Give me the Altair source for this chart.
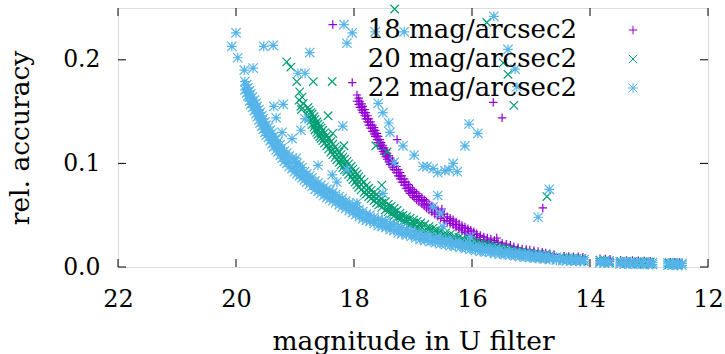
import altair as alt
import pandas as pd

# ---------------- values ----------------
series_names = ["18 mag/arcsec2", "20 mag/arcsec2", "22 mag/arcsec2"]
series_colors = ["#9400d3", "#009e73", "#56b4e9"]
series_shapes = [
    "M-1,0L1,0M0,-1L0,1",
    "M-1,-1L1,1M-1,1L1,-1",
    "M-1.15,0L1.15,0M0,-1.15L0,1.15M-1.1,-1.1L1.1,1.1M-1.1,1.1L1.1,-1.1",
]

x_ticks = [22, 20, 18, 16, 14, 12]
y_ticks = [0.0, 0.1, 0.2]

# --- 18 mag/arcsec2 : dense band (upper edge, lower edge, middle) ---
band18_mag = [17.95, 17.90, 17.85, 17.80, 17.75, 17.69, 17.64, 17.59, 17.54, 17.49,
              17.44, 17.39, 17.32, 17.25, 17.19, 17.12, 17.05, 16.98, 16.90, 16.81,
              16.73, 16.63, 16.53, 16.42, 16.32, 16.22, 16.12, 16.02, 15.92, 15.80,
              15.68, 15.56, 15.42, 15.29, 15.15, 15.02, 14.88, 14.75, 14.61, 14.44,
              14.36, 14.28, 14.20, 14.12, 13.83, 13.74, 13.66, 13.48, 13.38, 13.28,
              13.18, 13.08, 12.98, 12.64, 12.56, 12.48]
band18_hi = [.166, .160, .155, .149, .143, .137, .132, .126, .120, .115,
             .110, .105, .100, .094, .088, .082, .077, .073, .069, .065,
             .061, .057, .053, .0485, .0455, .0415, .0385, .0355, .032, .029,
             .027, .024, .022, .0195, .0175, .0165, .015, .0135, .0121, .0105,
             .0102, .0100, .0098, .0095, .0080, .0078, .0076, .0066, .0064, .0062,
             .0060, .0058, .0056, .0046, .0045, .0044]
band18_lo = [.160, .154, .149, .143, .137, .131, .126, .120, .114, .109,
             .104, .099, .094, .088, .082, .076, .071, .067, .063, .059,
             .055, .051, .047, .0435, .0405, .0365, .0335, .0305, .028, .025,
             .023, .020, .018, .0165, .0145, .0135, .012, .0105, .0091, .0085,
             .0082, .0080, .0078, .0075, .0060, .0058, .0056, .0046, .0044, .0042,
             .0040, .0038, .0036, .0026, .0025, .0024]
mid18_mag = [17.92, 17.87, 17.82, 17.77, 17.72, 17.66, 17.61, 17.56, 17.51, 17.46,
             17.41, 17.35, 17.28, 17.22, 17.15, 17.08, 17.01, 16.94, 16.85, 16.77,
             16.68, 16.58, 16.47, 16.37, 16.27, 16.17, 16.07, 15.97, 15.86, 15.74,
             15.62, 15.49, 15.35, 15.22, 15.08, 14.95, 14.81, 14.68]
mid18_acc = [.160, .1545, .149, .143, .137, .1315, .126, .120, .1145, .1095,
             .1045, .0995, .094, .088, .082, .0765, .072, .068, .064, .060,
             .056, .052, .048, .0445, .041, .0375, .0345, .0315, .0285, .026,
             .0235, .021, .019, .017, .0155, .0142, .0127, .0113]
mid18_hi = [.163, .1575, .152, .146, .140, .1345, .129, .123, .1175, .1125,
            .1075, .1025, .097, .091, .085, .0795, .075, .071, .067, .063,
            .059, .055, .051, .047, .0435, .040, .037, .034, .0305, .028,
            .0255, .023, .021, .0185, .017, .0157, .0142, .0128]
mid18_lo = [.157, .1515, .146, .140, .134, .1285, .123, .117, .1115, .1065,
            .1015, .0965, .091, .085, .079, .0735, .069, .065, .061, .057,
            .053, .049, .045, .042, .0385, .035, .032, .029, .0265, .024,
            .0215, .019, .017, .0155, .014, .0127, .0112, .0098]
out18_mag = [18.36, 18.03, 17.27, 15.64, 15.49, 14.80, 16.51, 15.58]
out18_acc = [.234, .178, .123, .159, .144, .057, .056, .028]

# --- 20 mag/arcsec2 ---
band20_mag = [18.78, 18.73, 18.68, 18.63, 18.58, 18.53, 18.46, 18.39, 18.32, 18.25,
              18.19, 18.12, 18.05, 17.98, 17.92, 17.83, 17.75, 17.66, 17.58, 17.47,
              17.37, 17.27, 17.17, 17.05, 16.93, 16.80, 16.66, 16.53, 16.37, 16.22,
              16.07, 15.92, 15.76, 15.61, 15.46, 15.31, 15.15, 15.00, 14.85, 14.68,
              14.46, 14.38, 14.30, 14.22, 14.14, 13.83, 13.75, 13.67, 13.48, 13.38,
              13.28, 13.18, 13.08, 12.98, 12.66, 12.58, 12.50]
band20_hi = [.154, .149, .145, .140, .136, .132, .127, .121, .116, .111,
             .106, .102, .097, .092, .087, .082, .076, .072, .068, .063,
             .0585, .0545, .050, .047, .044, .041, .0375, .0345, .0315, .0286,
             .026, .024, .022, .020, .0179, .016, .0145, .0131, .0121, .0112,
             .0090, .0088, .0086, .0083, .0081, .0066, .0064, .0062, .0055, .0053,
             .0052, .0050, .0049, .0048, .0041, .0040, .0039]
band20_lo = [.146, .141, .135, .130, .126, .122, .117, .111, .106, .101,
             .096, .092, .087, .082, .077, .072, .068, .064, .060, .055,
             .0515, .0475, .044, .041, .038, .035, .0325, .0295, .0265, .0246,
             .022, .020, .018, .016, .0149, .013, .0115, .0101, .0091, .0082,
             .0070, .0068, .0066, .0063, .0061, .0046, .0044, .0042, .0035, .0033,
             .0032, .0030, .0029, .0028, .0021, .0020, .0019]
mid20_mag = [18.76, 18.71, 18.66, 18.61, 18.56, 18.50, 18.43, 18.36, 18.29, 18.22,
             18.16, 18.09, 18.02, 17.95, 17.88, 17.79, 17.71, 17.62, 17.53, 17.42,
             17.32, 17.22, 17.11, 16.99, 16.87, 16.73, 16.60, 16.45, 16.30, 16.15,
             16.00, 15.84, 15.69, 15.54, 15.39, 15.23, 15.08, 14.93, 14.77]
mid20_acc = [.1475, .1425, .1375, .133, .129, .1245, .119, .1135, .1085, .1035,
             .099, .0945, .0895, .0845, .0795, .0745, .070, .066, .0615, .057,
             .053, .049, .0455, .0425, .0395, .0365, .0335, .0305, .0278, .0253,
             .023, .021, .019, .0172, .0155, .0138, .0123, .0111, .0101]
mid20_hi = [.1515, .1475, .1425, .138, .134, .1295, .124, .1185, .1135, .1085,
            .104, .0995, .0945, .0895, .0845, .0785, .074, .070, .0655, .0605,
            .0565, .052, .0485, .0455, .0425, .039, .036, .033, .0298, .0273,
            .025, .023, .021, .0187, .017, .0153, .0138, .0126, .0116]
mid20_lo = [.1435, .1375, .1325, .128, .124, .1195, .114, .1085, .1035, .0985,
            .094, .0895, .0845, .0795, .0745, .0705, .066, .062, .0575, .0535,
            .0495, .046, .0425, .0395, .0365, .034, .031, .028, .0258, .0233,
            .021, .019, .017, .0157, .014, .0123, .0108, .0096, .0086]
out20_mag = [18.92, 18.88, 18.93, 18.86, 18.90, 18.89, 19.14, 19.07, 18.97, 18.69,
             18.37, 17.31, 15.75, 15.47, 15.39, 15.29, 18.44, 18.36, 18.17, 17.44,
             17.63, 17.53, 14.73]
out20_acc = [.169, .164, .161, .158, .155, .152, .198, .193, .179, .179,
             .179, .249, .236, .197, .186, .156, .146, .129, .117, .111,
             .117, .079, .068]

# --- 22 mag/arcsec2 ---
band22_mag = [19.85, 19.80, 19.75, 19.69, 19.64, 19.59, 19.54, 19.49, 19.42, 19.36,
              19.29, 19.22, 19.14, 19.05, 18.97, 18.88, 18.80, 18.71, 18.61, 18.51,
              18.41, 18.31, 18.20, 18.08, 17.97, 17.85, 17.73, 17.59, 17.46, 17.32,
              17.19, 17.03, 16.88, 16.71, 16.54, 16.37, 16.20, 16.03, 15.86, 15.69,
              15.53, 15.36, 15.19, 15.02, 14.85, 14.68, 14.46, 14.40, 14.32, 14.24,
              14.16, 14.10, 13.83, 13.76, 13.68, 13.49, 13.41, 13.32, 13.22, 13.12,
              13.02, 12.94, 12.68, 12.60, 12.52, 12.44]
band22_hi = [.179, .173, .167, .161, .155, .149, .143, .137, .132, .126,
             .121, .115, .110, .105, .100, .096, .090, .086, .081, .077,
             .074, .070, .066, .0615, .0575, .0535, .050, .046, .044, .041,
             .038, .0345, .0315, .0295, .0275, .0255, .023, .021, .019, .018,
             .0165, .0145, .0131, .0121, .0112, .0102, .0082, .0080, .0078, .0076,
             .0074, .0072, .0060, .0058, .0057, .0050, .0049, .0048, .0046, .0045,
             .0044, .0043, .0038, .0037, .0036, .0035]
band22_lo = [.171, .165, .157, .151, .145, .139, .133, .127, .122, .116,
             .111, .105, .100, .095, .090, .086, .082, .078, .073, .069,
             .066, .062, .058, .0545, .0505, .0465, .044, .040, .038, .035,
             .032, .0295, .0265, .0245, .0225, .0205, .019, .017, .015, .014,
             .0125, .0115, .0101, .0091, .0082, .0072, .0062, .0060, .0058, .0056,
             .0054, .0052, .0040, .0038, .0037, .0030, .0029, .0028, .0026, .0025,
             .0024, .0023, .0018, .0017, .0016, .0015]
mid22_mag = [19.82, 19.77, 19.72, 19.66, 19.61, 19.56, 19.51, 19.45, 19.39, 19.32,
             19.25, 19.18, 19.10, 19.01, 18.92, 18.84, 18.75, 18.66, 18.56, 18.46,
             18.36, 18.25, 18.14, 18.02, 17.91, 17.79, 17.66, 17.52, 17.39, 17.25,
             17.11, 16.95, 16.80, 16.62, 16.45, 16.28, 16.11, 15.94, 15.77, 15.61,
             15.44, 15.27, 15.10, 14.93, 14.76, 14.57]
mid22_acc = [.172, .165, .159, .153, .147, .141, .135, .130, .124, .118,
             .113, .107, .102, .097, .093, .088, .084, .079, .075, .071,
             .068, .064, .060, .056, .052, .048, .045, .042, .039, .036,
             .0335, .0305, .028, .026, .024, .022, .020, .018, .0165, .015,
             .0137, .0123, .0111, .0101, .0092, .0080]
mid22_hi = [.176, .170, .164, .158, .152, .146, .140, .135, .129, .123,
            .118, .112, .107, .102, .098, .092, .088, .083, .079, .075,
            .072, .068, .0635, .0595, .0555, .051, .048, .045, .042, .039,
            .036, .033, .0305, .0285, .0265, .024, .022, .020, .0185, .017,
            .0152, .0138, .0126, .0116, .0107, .0095]
mid22_lo = [.168, .160, .154, .148, .142, .136, .130, .125, .119, .113,
            .108, .102, .097, .092, .088, .084, .080, .075, .071, .067,
            .064, .060, .0565, .0525, .0485, .045, .042, .039, .036, .033,
            .031, .028, .0255, .0235, .0215, .020, .018, .016, .0145, .013,
            .0122, .0108, .0096, .0086, .0077, .0065]
out22_mag = [20.00, 20.07, 19.97, 19.86, 19.71, 19.53, 19.37, 18.75, 18.17, 18.03,
             18.12, 18.95, 18.83, 19.36, 19.20, 19.32, 19.22, 19.05, 18.90, 18.83,
             18.19, 18.61, 18.98, 18.12, 18.37, 18.29, 17.51, 17.95, 17.64, 17.15,
             15.63, 15.39, 15.27, 15.24, 17.59, 17.51, 17.41, 17.39, 17.17, 16.98,
             16.83, 16.76, 16.66, 16.58, 16.46, 16.39, 16.32, 16.25, 16.05, 15.90,
             16.12, 16.58, 16.66, 16.49, 16.03, 17.32, 14.69, 14.88, 16.54]
out22_acc = [.226, .213, .202, .190, .192, .213, .214, .207, .234, .226,
             .216, .187, .187, .155, .157, .144, .130, .124, .132, .143,
             .136, .098, .105, .094, .089, .082, .071, .062, .227, .227,
             .242, .210, .191, .174, .158, .149, .139, .130, .117, .108,
             .097, .097, .095, .091, .093, .094, .100, .092, .138, .129,
             .117, .069, .058, .039, .029, .101, .075, .048, .052]

# ---------------- table ----------------
rows = []
for name, bm, bh, bl, mm, ma, mh, ml, om, oa in [
    (series_names[0], band18_mag, band18_hi, band18_lo, mid18_mag, mid18_acc,
     mid18_hi, mid18_lo, out18_mag, out18_acc),
    (series_names[1], band20_mag, band20_hi, band20_lo, mid20_mag, mid20_acc,
     mid20_hi, mid20_lo, out20_mag, out20_acc),
    (series_names[2], band22_mag, band22_hi, band22_lo, mid22_mag, mid22_acc,
     mid22_hi, mid22_lo, out22_mag, out22_acc),
]:
    for m, h, l in zip(bm, bh, bl):
        rows.append({"mag": m, "acc": h, "series": name})
        rows.append({"mag": m, "acc": l, "series": name})
    for m, a, h, l in zip(mm, ma, mh, ml):
        rows.append({"mag": m, "acc": h, "series": name})
        rows.append({"mag": m, "acc": a, "series": name})
        rows.append({"mag": m, "acc": l, "series": name})
    for m, a in zip(om, oa):
        rows.append({"mag": m, "acc": a, "series": name})
df = pd.DataFrame(rows)
xt_df = pd.DataFrame({"v": x_ticks})
yt_df = pd.DataFrame({"v": y_ticks})
legend_df = pd.DataFrame({"series": series_names})

FONT = "DejaVu Serif"
xscale = alt.Scale(domain=[12, 22], reverse=True, nice=False, zero=False)
yscale = alt.Scale(domain=[0, 0.25], nice=False, zero=False)
cscale = alt.Scale(domain=series_names, range=series_colors)
sscale = alt.Scale(domain=series_names, range=series_shapes)
legend_y = alt.Scale(type="point", domain=series_names, range=[22, 80], padding=0)

main = alt.Chart(df).mark_point(filled=False, strokeWidth=1.2, size=72, opacity=1).encode(
    x=alt.X("mag:Q", scale=xscale, axis=alt.Axis(
        orient="bottom", values=x_ticks, ticks=False, domain=False, grid=False,
        labelFont=FONT, labelFontSize=24, labelColor="black", labelPadding=20,
        labelFlush=False, labelOverlap=False, labelBound=False,
        title="magnitude in U filter", titleFont=FONT, titleFontSize=26.5,
        titleFontWeight="normal", titleColor="black",
        titleBaseline="alphabetic", titleAlign="center", titleX=295, titleY=82)),
    y=alt.Y("acc:Q", scale=yscale, axis=alt.Axis(
        orient="left", values=y_ticks, format=".1f", ticks=False, domain=False,
        grid=False, labelFont=FONT, labelFontSize=23.5, labelColor="black",
        labelPadding=18, labelFlush=False, labelOverlap=False,
        title="rel. accuracy", titleFont=FONT, titleFontSize=26.5,
        titleFontWeight="normal", titleColor="black",
        titleBaseline="alphabetic", titleAlign="center", titleAngle=270,
        titleX=-90, titleY=129.5)),
    color=alt.Color("series:N", scale=cscale, legend=None),
    shape=alt.Shape("series:N", scale=sscale, legend=None),
)

tick_style = dict(color="black", strokeWidth=1)
tick_bottom = alt.Chart(xt_df).mark_rule(**tick_style).encode(
    x=alt.X("v:Q", scale=xscale, axis=None), y=alt.value(259), y2=alt.value(251))
tick_top = alt.Chart(xt_df).mark_rule(**tick_style).encode(
    x=alt.X("v:Q", scale=xscale, axis=None), y=alt.value(0), y2=alt.value(8))
tick_left = alt.Chart(yt_df).mark_rule(**tick_style).encode(
    y=alt.Y("v:Q", scale=yscale, axis=None), x=alt.value(0), x2=alt.value(8))
tick_right = alt.Chart(yt_df).mark_rule(**tick_style).encode(
    y=alt.Y("v:Q", scale=yscale, axis=None), x=alt.value(590), x2=alt.value(582))

leg_text = alt.Chart(legend_df).mark_text(
    align="right", baseline="middle", font=FONT, fontSize=26, color="black"
).encode(
    x=alt.value(459),
    y=alt.Y("series:N", scale=legend_y, axis=None),
    text="series:N",
)
leg_sym = alt.Chart(legend_df).mark_point(filled=False, strokeWidth=1, size=72, opacity=1).encode(
    x=alt.value(515),
    y=alt.Y("series:N", scale=legend_y, axis=None),
    color=alt.Color("series:N", scale=cscale, legend=None),
    shape=alt.Shape("series:N", scale=sscale, legend=None),
)

chart = alt.layer(
    main, tick_bottom, tick_top, tick_left, tick_right, leg_text, leg_sym
).resolve_scale(y="independent").resolve_axis(x="independent").properties(
    width=590, height=259,
    autosize=alt.AutoSizeParams(type="none"),
    padding={"left": 118, "top": 8, "right": 17, "bottom": 87},
).configure_view(
    stroke="black", strokeWidth=1
).configure(background="white")

chart.save("out.html", embed_options={"renderer": "svg", "actions": False})
